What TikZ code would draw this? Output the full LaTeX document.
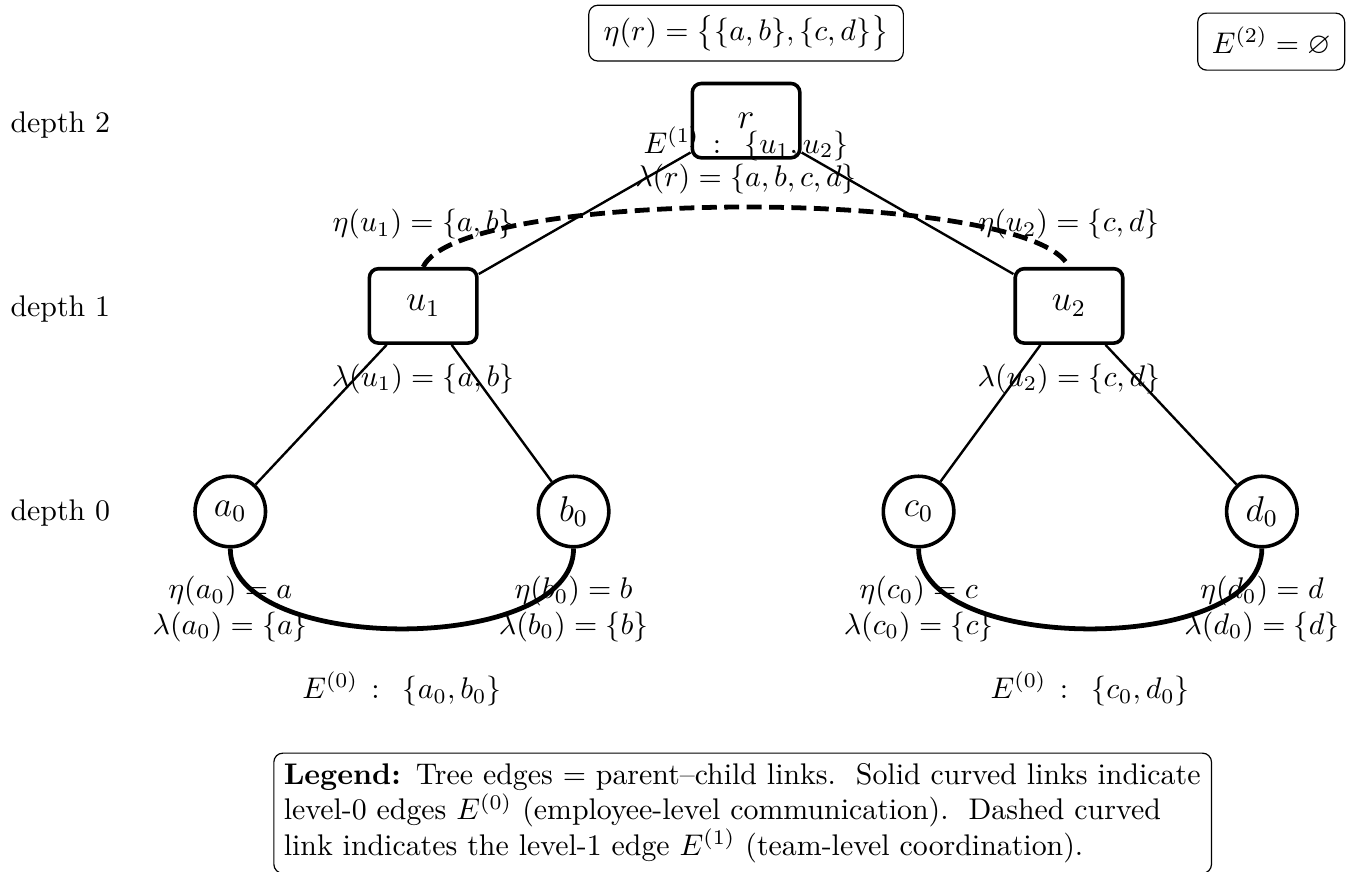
\documentclass[tikz,border=0pt]{standalone}
\usepackage{amsmath,amssymb}
\usetikzlibrary{positioning,calc}
\tikzset{
  inner/.style    = {draw, very thick, rounded corners=3pt, minimum width=1.265cm,
                     minimum height=0.875cm, font=\large},
  leaf/.style     = {draw, very thick, circle, minimum size=0.83cm, inner sep=1pt,
                     font=\large},
  info/.style     = {draw, thin, rounded corners=3pt, inner xsep=5pt},
  lbl/.style      = {align=center},
  depthlbl/.style = {anchor=west},
  linkzero/.style = {ultra thick},
  linkone/.style  = {ultra thick, dash pattern=on 5pt off 2.5pt}
}

\begin{document}
\begin{tikzpicture}[
    level 1/.style={sibling distance=7.6cm, level distance=2.18cm},
    level 2/.style={sibling distance=4.04cm, level distance=2.42cm},
    edge from parent/.style={draw, thick}]
  \useasboundingbox (-8.78,1.42) rectangle (7.26,-8.84);

  % the tree: root, teams, employees
  \node[inner] (r) {$r$}
    child {node[inner] (u1) {$u_1$}
      child[xshift=-2.5mm] {node[leaf] (a0) {$a_0$}}
      child[xshift=-2.5mm] {node[leaf] (b0) {$b_0$}}}
    child {node[inner] (u2) {$u_2$}
      child[xshift=2.5mm] {node[leaf] (c0) {$c_0$}}
      child[xshift=2.5mm] {node[leaf] (d0) {$d_0$}}};

  % depth labels on the left
  \node[depthlbl] (dtwo) at (-8.78,-0.05) {depth 2};
  \node[depthlbl] (done) at (-8.78,-2.22) {depth 1};
  \node[depthlbl] (dzero) at (-8.78,-4.62) {depth 0};

  % boxes at the top
  \node[info] (etar) at (0,1.03) {$\eta(r)=\bigl\{\{a,b\},\{c,d\}\bigr\}$};
  \node[info, inner sep=4.7pt] (etwo) at (6.18,0.93) {$E^{(2)}=\varnothing$};

  % labels of the root
  \node[lbl] (eone) at ($(r)+(0,-0.27)$) {$E^{(1)}\,:\ \,\{u_1,u_2\}$};
  \node[lbl] (lamr) at ($(r)+(0,-0.69)$) {$\lambda(r)=\{a,b,c,d\}$};

  % labels of the teams
  \node[lbl, above=0.2cm of u1] (etau1) {$\eta(u_1)=\{a,b\}$};
  \node[lbl, above=0.2cm of u2] (etau2) {$\eta(u_2)=\{c,d\}$};
  \node[lbl, below=0.1cm of u1] (lamu1) {$\lambda(u_1)=\{a,b\}$};
  \node[lbl, below=0.1cm of u2] (lamu2) {$\lambda(u_2)=\{c,d\}$};

  % labels of the employees
  \foreach \n/\e in {a0/a, b0/b, c0/c, d0/d}
    \node[lbl, below=0.2cm of \n] (lab\n) {$\eta(\e_0)=\e$\\$\lambda(\e_0)=\{\e\}$};

  % level-0 links and the level-1 link
  \draw[linkzero] (a0.south) to[out=-90, in=-90, looseness=0.8] (b0.south);
  \draw[linkzero] (c0.south) to[out=-90, in=-90, looseness=0.8] (d0.south);
  \draw[linkone] (u1.north) to[out=65, in=115, looseness=0.35] (u2.north);

  \node[lbl] (ezl) at ($(a0)!0.5!(b0)+(0,-2.09)$) {$E^{(0)}\,:\ \,\{a_0,b_0\}$};
  \node[lbl] (ezr) at ($(c0)!0.5!(d0)+(0,-2.09)$) {$E^{(0)}\,:\ \,\{c_0,d_0\}$};

  % legend
  \node[info, inner xsep=3.33pt, text width=10.8cm, align=left] (legend) at (-0.04,-8.15)
    {\textbf{Legend:} Tree edges = parent--child links.\ \ Solid curved links indicate\\
     level-0 edges $E^{(0)}$ (employee-level communication).\ \ Dashed curved\\
     link indicates the level-1 edge $E^{(1)}$ (team-level coordination).};
\end{tikzpicture}
\end{document}
